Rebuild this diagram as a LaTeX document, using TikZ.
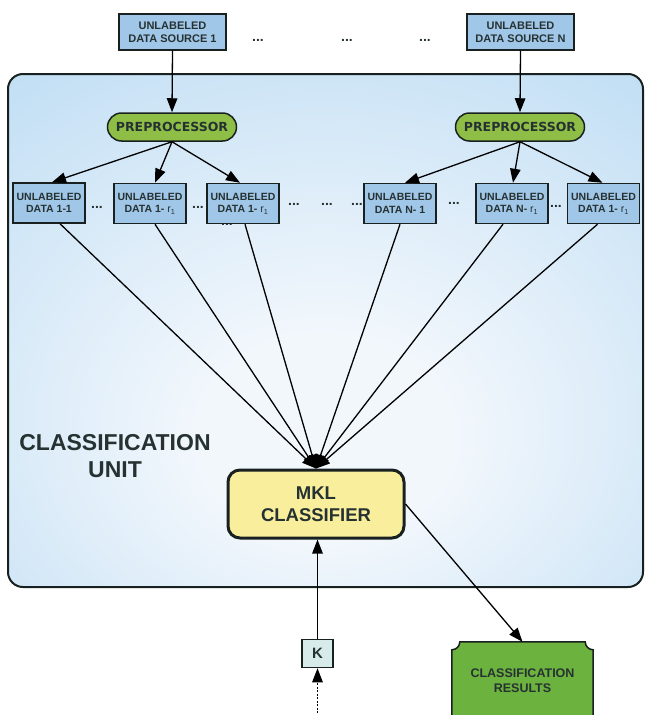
\documentclass[tikz,border=0pt]{standalone}
\usepackage{fontspec}
\setmainfont{Liberation Sans}
\newfontfamily\prepfont{DejaVu Sans}
\usetikzlibrary{arrows.meta,calc}

\definecolor{ink}{RGB}{38,50,50}
\definecolor{edge}{RGB}{25,32,32}
\definecolor{boxblue}{RGB}{160,198,232}
\definecolor{prepgreen}{RGB}{143,190,70}
\definecolor{mklyellow}{RGB}{249,238,156}
\definecolor{resgreen}{RGB}{108,178,62}
\definecolor{kfill}{RGB}{214,235,234}
\definecolor{unitin}{RGB}{242,247,252}
\definecolor{unitout}{RGB}{180,216,242}

% soft glow for the classification unit panel, centred a little below the middle
\pgfdeclareradialshading{unitglow}{\pgfpoint{0bp}{-12bp}}{%
  color(0bp)=(unitin); color(10bp)=(unitin); color(48bp)=(unitout); color(80bp)=(unitout)}

\tikzset{
  base/.style={text=ink, align=center, inner sep=0pt},
  srcbox/.style={base, draw=edge, line width=1.5pt, fill=boxblue,
    minimum width=107pt, minimum height=36pt,
    font=\bfseries\fontsize{11}{13}\selectfont},
  databox/.style={base, draw=edge, line width=1.5pt, fill=boxblue,
    minimum width=72pt, minimum height=40pt,
    font=\bfseries\fontsize{10.5}{12.5}\selectfont},
  prepbox/.style={base, draw=edge, line width=1.5pt, fill=prepgreen,
    rounded corners=14pt, minimum width=129pt, minimum height=28pt,
    font=\prepfont\bfseries\fontsize{12.5}{14}\selectfont},
  mklbox/.style={base, draw=edge, line width=3pt, fill=mklyellow,
    rounded corners=12pt, minimum width=176pt, minimum height=68pt,
    font=\bfseries\fontsize{18.5}{22}\selectfont},
  kbox/.style={base, draw=edge, line width=1.5pt, fill=kfill,
    minimum width=31pt, minimum height=28pt,
    font=\bfseries\fontsize{15}{16}\selectfont},
  resbox/.style={base, minimum width=141pt, minimum height=78pt,
    font=\bfseries\fontsize{12.5}{15}\selectfont},
  dotsmark/.style={base, font=\bfseries\fontsize{14}{14}\selectfont},
  unitlabel/.style={base, font=\bfseries\fontsize{23}{27}\selectfont},
  link/.style={-{Triangle[length=14pt,width=10.5pt]}, line width=1.3pt, draw=black},
  dotlink/.style={link, dash pattern=on 2pt off 1.5pt},
}

\newcommand{\rsub}{{\mdseries r\textsubscript{1}}}

\begin{document}
\begin{tikzpicture}[x=1pt, y=-1pt]
\useasboundingbox (0,0) rectangle (645,715);
\clip (0,0) rectangle (645,715);

% classification unit panel
\shade[shading=unitglow, draw=edge, line width=2pt, rounded corners=15pt]
  (8,74) rectangle (643,587);

% data sources
\node[srcbox] (src1) at (172.5,32) {UNLABELED\\DATA SOURCE 1};
\node[srcbox] (srcN) at (520.5,32) {UNLABELED\\DATA SOURCE N};
\node[dotsmark] (s1) at (258,40) {...};
\node[dotsmark] (s2) at (347,40) {...};
\node[dotsmark] (s3) at (425,40) {...};

% preprocessors
\node[prepbox] (pre1) at (172,127) {PREPROCESSOR};
\node[prepbox] (pre2) at (520,127) {PREPROCESSOR};

% unlabeled data blocks
\node[dotsmark] (t0) at (227,224) {...};
\node[databox] (d1) at (49,203) {UNLABELED\\DATA 1-1};
\node[databox] (d2) at (150,203.5) {UNLABELED\\DATA 1- \rsub};
\node[databox] (d3) at (243,203.5) {UNLABELED\\DATA 1- \rsub};
\node[databox] (d4) at (400,203.5) {UNLABELED\\DATA N- 1};
\node[databox] (d5) at (512,203.5) {UNLABELED\\DATA N- \rsub};
\node[databox] (d6) at (603.5,203.5) {UNLABELED\\DATA 1- \rsub};

\node[dotsmark] (t1) at (97,207) {...};
\node[dotsmark] (t2) at (198,207) {...};
\node[dotsmark] (t3) at (294,204) {...};
\node[dotsmark] (t4) at (327,204) {...};
\node[dotsmark] (t5) at (357,204) {...};
\node[dotsmark] (t6) at (454,203) {...};
\node[dotsmark] (t7) at (556,206) {...};

% classifier, kernel and results
\node[unitlabel] (unit) at (115,456) {CLASSIFICATION\\UNIT};
\node[mklbox] (mkl) at (316,504) {MKL\\CLASSIFIER};
\node[kbox] (k) at (317.5,653.5) {K};
\node[resbox] (res) at (522.5,681) {};
\fill[resgreen, draw=edge, line width=1.5pt]
  ($(res.south west)$) -- ($(res.north west)+(0,8)$)
  .. controls ($(res.north west)+(4.4,8)$) and ($(res.north west)+(8,4.4)$) .. ($(res.north west)+(8,0)$)
  -- ($(res.north east)+(-8,0)$)
  .. controls ($(res.north east)+(-8,4.4)$) and ($(res.north east)+(-4.4,8)$) .. ($(res.north east)+(0,8)$)
  -- ($(res.south east)$);
\node[resbox] (restext) at (res.center) {CLASSIFICATION\\RESULTS};
\coordinate (kin) at (317.5,720);

% connectors
\draw[link] (src1.south) -- (pre1.north);
\draw[link] (srcN.south) -- (pre2.north);

\draw[link] (pre1.south) -- ([xshift=3pt]d1.north);
\draw[link] (pre1.south) -- ([xshift=5pt]d2.north);
\draw[link] (pre1.south) -- ([xshift=-3pt]d3.north);
\draw[link] (pre2.south) -- ([xshift=5pt]d4.north);
\draw[link] (pre2.south) -- ([xshift=1pt]d5.north);
\draw[link] (pre2.south) -- ([xshift=-1pt]d6.north);

\draw[link] ([xshift=11pt]d1.south) -- (mkl.north);
\draw[link] ([xshift=5pt]d2.south) -- (mkl.north);
\draw[link] ([xshift=2pt]d3.south) -- (mkl.north);
\draw[link] (d4.south) -- (mkl.north);
\draw[link] ([xshift=-9pt]d5.south) -- (mkl.north);
\draw[link] ([xshift=-6pt]d6.south) -- (mkl.north);

\draw[link] (k.north) -- (mkl.south -| k.north);
\draw[dotlink] (kin) -- (k.south);
\draw[link] (mkl.east) -- (res.north);
\end{tikzpicture}
\end{document}
